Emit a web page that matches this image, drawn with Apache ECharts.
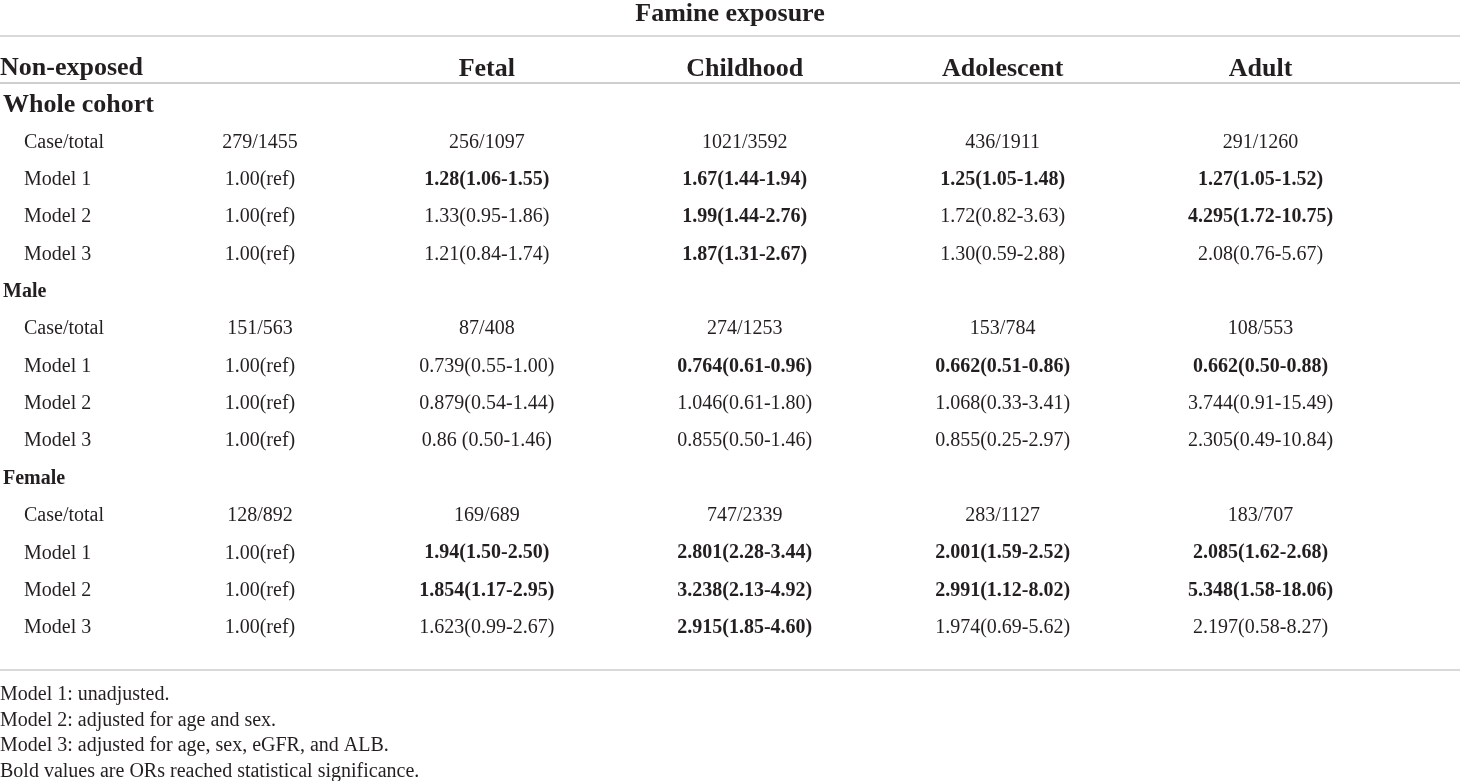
<!DOCTYPE html>
<html>
<head>
<meta charset="utf-8">
<script src="https://cdn.jsdelivr.net/npm/echarts@6/dist/echarts.min.js"></script>
<style>
  html, body { margin: 0; padding: 0; background: #fff; }
  #table { width: 1460px; height: 781px; }
</style>
</head>
<body>
<div id="table"></div>
<script>
// columns of the famine exposure table
const columns = ['Non-exposed', 'Fetal', 'Childhood', 'Adolescent', 'Adult'];

const rowLabels = ['Whole cohort', 'Case/total', 'Model 1', 'Model 2', 'Model 3',
  'Male', 'Case/total', 'Model 1', 'Model 2', 'Model 3',
  'Female', 'Case/total', 'Model 1', 'Model 2', 'Model 3'];
const sectionRows = [0, 5, 10];

const nonExposed = ['', '279/1455', '1.00(ref)', '1.00(ref)', '1.00(ref)',
  '', '151/563', '1.00(ref)', '1.00(ref)', '1.00(ref)',
  '', '128/892', '1.00(ref)', '1.00(ref)', '1.00(ref)'];
const fetal = ['', '256/1097', '1.28(1.06-1.55)', '1.33(0.95-1.86)', '1.21(0.84-1.74)',
  '', '87/408', '0.739(0.55-1.00)', '0.879(0.54-1.44)', '0.86 (0.50-1.46)',
  '', '169/689', '1.94(1.50-2.50)', '1.854(1.17-2.95)', '1.623(0.99-2.67)'];
const childhood = ['', '1021/3592', '1.67(1.44-1.94)', '1.99(1.44-2.76)', '1.87(1.31-2.67)',
  '', '274/1253', '0.764(0.61-0.96)', '1.046(0.61-1.80)', '0.855(0.50-1.46)',
  '', '747/2339', '2.801(2.28-3.44)', '3.238(2.13-4.92)', '2.915(1.85-4.60)'];
const adolescent = ['', '436/1911', '1.25(1.05-1.48)', '1.72(0.82-3.63)', '1.30(0.59-2.88)',
  '', '153/784', '0.662(0.51-0.86)', '1.068(0.33-3.41)', '0.855(0.25-2.97)',
  '', '283/1127', '2.001(1.59-2.52)', '2.991(1.12-8.02)', '1.974(0.69-5.62)'];
const adult = ['', '291/1260', '1.27(1.05-1.52)', '4.295(1.72-10.75)', '2.08(0.76-5.67)',
  '', '108/553', '0.662(0.50-0.88)', '3.744(0.91-15.49)', '2.305(0.49-10.84)',
  '', '183/707', '2.085(1.62-2.68)', '5.348(1.58-18.06)', '2.197(0.58-8.27)'];

// rows (by index) printed in bold = significant ORs
const nonExposedBold = [];
const fetalBold = [2, 12, 13];
const childhoodBold = [2, 3, 4, 7, 12, 13, 14];
const adolescentBold = [2, 7, 12, 13];
const adultBold = [2, 3, 7, 12, 13];

const footnotes = ['Model 1: unadjusted.', 'Model 2: adjusted for age and sex.',
  'Model 3: adjusted for age, sex, eGFR, and ALB.',
  'Bold values are ORs reached statistical significance.'];

const FONT = 'Liberation Serif';
const INK = '#231f20';

const cells = [nonExposed, fetal, childhood, adolescent, adult];
const bolds = [nonExposedBold, fetalBold, childhoodBold, adolescentBold, adultBold];

const series = cells.map((col, c) => ({
  type: 'scatter',
  symbolSize: 1,
  itemStyle: { color: 'rgba(0,0,0,0)', opacity: 1 },
  silent: true,
  label: {
    show: true,
    position: 'inside',
    offset: c === 0 ? [31, 0] : [0, 0],
    fontFamily: FONT,
    fontSize: 20,
    color: INK,
    formatter: p => col[p.value[1]]
  },
  data: col.map((txt, r) => txt ? {
    value: [c, r],
    label: { fontWeight: bolds[c].includes(r) ? 'bold' : 'normal' }
  } : null).filter(d => d)
}));

const chart = echarts.init(document.getElementById('table'));
chart.setOption({
  backgroundColor: '#fff',
  animation: false,
  textStyle: { fontFamily: FONT, color: INK },
  title: [
    { text: 'Famine exposure', left: 'center', top: 1, padding: 0,
      textStyle: { fontFamily: FONT, fontSize: 26, fontWeight: 'bold', color: INK } },
    { text: 'Non-exposed', left: 0, top: 55, padding: 0,
      textStyle: { fontFamily: FONT, fontSize: 26, fontWeight: 'bold', color: INK } },
    { text: footnotes.join('\n'), left: 0, top: 682, padding: 0,
      textStyle: { fontFamily: FONT, fontSize: 20, fontWeight: 'normal', color: INK, lineHeight: 25.5 } }
  ],
  grid: { left: 94.5, right: 70.5, top: 86.3, height: 560.4, containLabel: false },
  xAxis: {
    type: 'category',
    position: 'top',
    data: columns,
    axisLine: { show: false },
    axisTick: { show: false },
    splitLine: { show: false },
    axisLabel: {
      margin: 17,
      verticalAlign: 'middle',
      fontFamily: FONT,
      fontSize: 26,
      fontWeight: 'bold',
      color: INK,
      formatter: (v, i) => i === 0 ? '' : v
    }
  },
  yAxis: {
    type: 'category',
    inverse: true,
    data: rowLabels,
    axisLine: { show: false },
    axisTick: { show: false },
    splitLine: { show: false },
    axisLabel: {
      margin: 97,
      align: 'left',
      fontFamily: FONT,
      color: INK,
      formatter: (v, i) => {
        if (i === 0) return '{h1|' + v + '}';
        if (sectionRows.includes(i)) return '{h2|' + v + '}';
        return '{r|' + v + '}';
      },
      rich: {
        h1: { fontFamily: FONT, fontSize: 26, fontWeight: 'bold', color: INK },
        h2: { fontFamily: FONT, fontSize: 20, fontWeight: 'bold', color: INK },
        r: { fontFamily: FONT, fontSize: 20, color: INK, padding: [0, 0, 0, 21] }
      }
    }
  },
  graphic: [
    { type: 'line', shape: { x1: 0, y1: 36, x2: 1460, y2: 36 }, style: { stroke: '#b4b4b4', lineWidth: 1.2 } },
    { type: 'line', shape: { x1: 0, y1: 83, x2: 1460, y2: 83 }, style: { stroke: '#cfcfcf', lineWidth: 2 } },
    { type: 'line', shape: { x1: 0, y1: 670, x2: 1460, y2: 670 }, style: { stroke: '#b4b4b4', lineWidth: 1.2 } }
  ],
  series: series
});
</script>
</body>
</html>
